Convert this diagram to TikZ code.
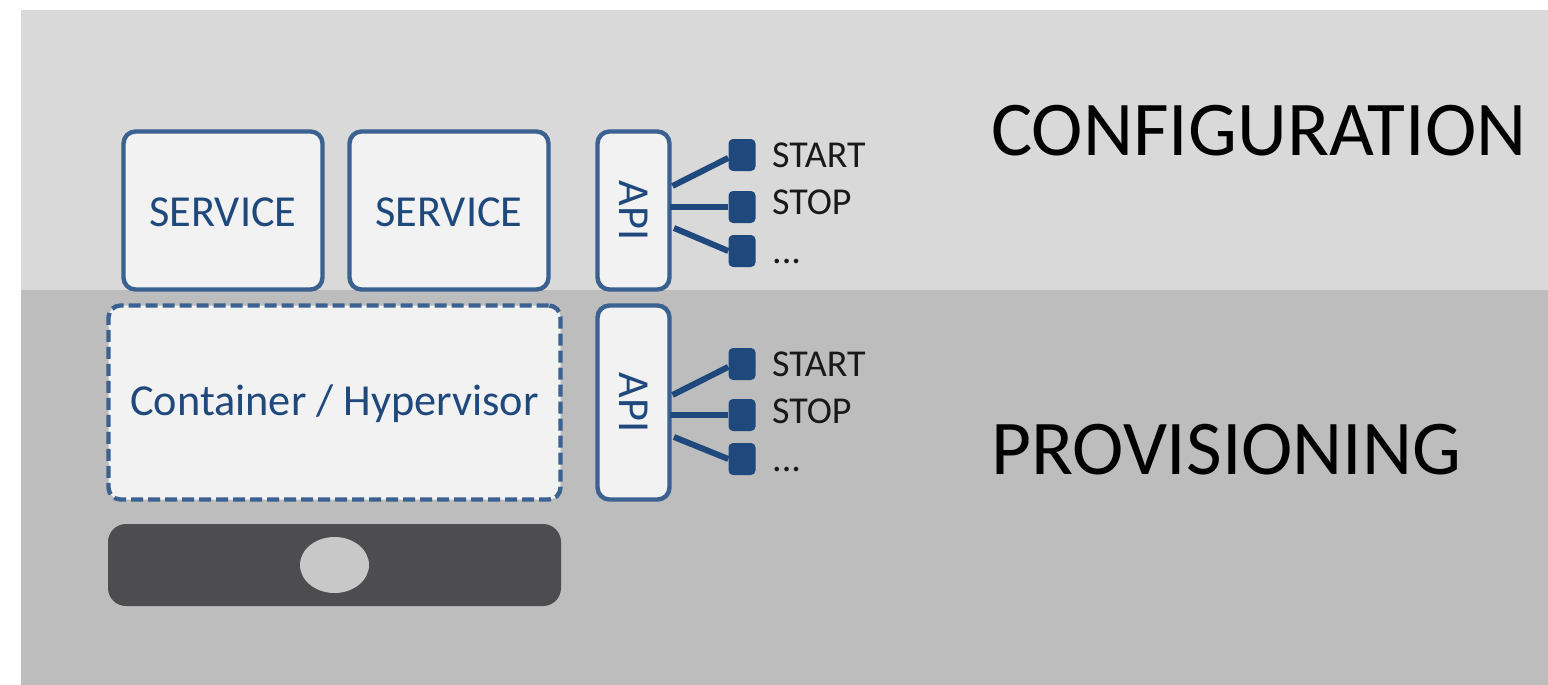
\documentclass[tikz,border=0pt]{standalone}
\usepackage{fontspec}
\usetikzlibrary{shapes.geometric}
\setmainfont{Carlito}
\definecolor{bluef}{HTML}{1F497D}
\definecolor{blueb}{HTML}{3A6190}
\definecolor{boxf}{HTML}{F2F2F2}
\definecolor{topb}{HTML}{D9D9D9}
\definecolor{botb}{HTML}{BDBDBD}
\definecolor{darkb}{HTML}{4D4D4F}
\definecolor{holeb}{HTML}{C8C8C8}
\tikzset{
  band/.style={draw=none,inner sep=0,outer sep=0,anchor=north west},
  svcbox/.style={draw=blueb,fill=boxf,line width=4.4pt,rounded corners=12pt,inner sep=0,text=bluef,font=\fontsize{44.3}{44}\selectfont},
  apibox/.style={svcbox},
  port/.style={draw=none,fill=bluef,rounded corners=4.5pt,minimum width=27pt,minimum height=32pt,inner sep=0},
  wire/.style={draw=bluef,line width=6pt},
  oplabel/.style={anchor=base west,inner sep=0,font=\fontsize{38}{38}\selectfont,text=black!90},
  title/.style={anchor=base west,inner sep=0,font=\fontsize{77.5}{78}\selectfont,text=black}
}
\begin{document}
\begin{tikzpicture}[x=1pt,y=-1pt]
\useasboundingbox (0,0) rectangle (1548,685);
\node[band,fill=topb,minimum width=1527pt,minimum height=280pt] (top) at (21,10) {};
\node[band,fill=botb,minimum width=1527pt,minimum height=395pt] (bottom) at (21,290) {};

\node[svcbox,minimum width=199pt,minimum height=158pt,text height=32pt,text depth=0pt] (s1) at (223,210.5) {SERVICE};
\node[svcbox,minimum width=199pt,minimum height=158pt,text height=32pt,text depth=0pt] (s2) at (449,210.5) {SERVICE};
\node[svcbox,dash pattern=on 12pt off 5pt,minimum width=452pt,minimum height=194pt,text height=34pt,text depth=8pt] (hv) at (334.5,402.5) {Container / Hypervisor};
\node[draw=none,fill=darkb,rounded corners=18pt,minimum width=453pt,minimum height=82pt,inner sep=0] (hw) at (334.5,565) {};
\node[ellipse,draw=none,fill=holeb,minimum width=69pt,minimum height=56pt,inner sep=0] (hole) at (334.5,565) {};

\node[apibox,minimum width=72pt,minimum height=158pt] (a1) at (633.5,210.5) {\rotatebox{-90}{API}};
\node[apibox,minimum width=72pt,minimum height=194pt] (a2) at (633.5,402.5) {\rotatebox{-90}{API}};

\node[port] (p1) at (742,155) {};
\node[port] (p2) at (742,207) {};
\node[port] (p3) at (742,251) {};
\node[port] (q1) at (742,364) {};
\node[port] (q2) at (742,415) {};
\node[port] (q3) at (742,459) {};

\coordinate (a1t) at (672.5,186);
\coordinate (a1m) at (670,207);
\coordinate (a1b) at (674,228);
\coordinate (a2t) at (672.5,395);
\coordinate (a2m) at (670,415);
\coordinate (a2b) at (674,437);
\draw[wire] (a1t) -- (p1.192);
\draw[wire] (a1m) -- (p2.west);
\draw[wire] (a1b) -- (p3.west);
\draw[wire] (a2t) -- (q1.192);
\draw[wire] (a2m) -- (q2.west);
\draw[wire] (a2b) -- (q3.west);

\node[oplabel] (l1) at (772,167) {START};
\node[oplabel] (l2) at (772,214) {STOP};
\node[oplabel] (l3) at (772,263) {...};
\node[oplabel] (m1) at (772,376) {START};
\node[oplabel] (m2) at (772,423) {STOP};
\node[oplabel] (m3) at (772,471) {...};

\node[title] (t1) at (991,155) {CONFIGURATION};
\node[title] (t2) at (991,474) {PROVISIONING};
\end{tikzpicture}
\end{document}
